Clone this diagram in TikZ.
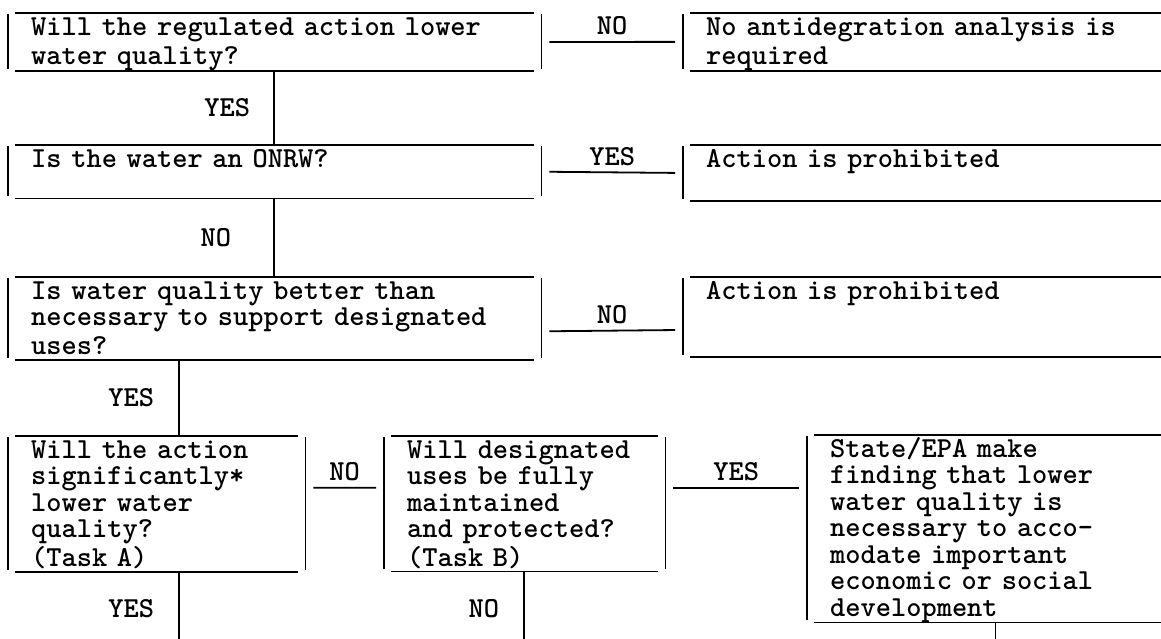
\documentclass[tikz,border=0pt]{standalone}
\usepackage{tikz}
\usetikzlibrary{positioning}
\newcommand{\typed}{\ttfamily\fontseries{b}\fontsize{29}{26.5}\selectfont}
\newcommand{\tstrut}{\rule[-4.7pt]{0pt}{26.5pt}}
\tikzstyle{decision}=[anchor=north west,align=left,inner xsep=23pt,inner ysep=0pt,font=\typed,execute at begin node=\tstrut,execute at end node=\tstrut]
\tikzstyle{rule}=[draw,line width=1.8pt]
\tikzstyle{link}=[draw,line width=1.8pt,shorten <=8pt,shorten >=8pt]
\tikzstyle{lab}=[inner sep=0pt,font=\typed]
% typewriter frame: bars and rules do not meet
\newcommand{\frameit}[1]{%
  \draw[rule] ([yshift=-1pt]#1.north west) -- ([yshift=2pt]#1.south west);
  \draw[rule] ([yshift=-1pt]#1.north east) -- ([yshift=2pt]#1.south east);
  \draw[rule] ([xshift=7pt]#1.north west) -- ([xshift=-7pt]#1.north east);
  \draw[rule] ([xshift=7pt]#1.south west) -- ([xshift=-7pt]#1.south east);
}

\begin{document}
\begin{tikzpicture}[x=1pt,y=-1pt]
        \path[use as bounding box] (0,0) rectangle (1161,638);
        \clip (0,0) rectangle (1161,638);
        % questions (left) and outcomes (right)
        \node[decision,text width=487pt] (q1) at (8,13) {Will the regulated action lower\\water quality?};
        \node[decision,text width=471pt] (r1) at (683,13) {No antidegration analysis is\\required};
        \node[decision,text width=487pt] (q2) at (8,145) {Is the water an ONRW?\\~};
        \node[decision,text width=471pt] (r2) at (683,145) {Action is prohibited\\~};
        \node[decision,text width=487pt] (q3) at (8,277) {Is water quality better than\\necessary to support designated\\uses?};
        \node[decision,text width=471pt] (r3) at (683,277) {Action is prohibited\\~\\~};
        \node[decision,text width=251pt] (q4) at (8,436) {Will the action\\significantly*\\lower water\\quality?\\(Task A)};
        \node[decision,text width=235pt] (q5) at (384,436) {Will designated\\uses be fully\\maintained\\and protected?\\(Task B)};
        \node[decision,text width=347pt] (f6) at (807,435) {State/EPA make\\finding that lower\\water quality is\\necessary to acco-\\modate important\\economic or social\\development};
        \foreach \b in {q1,r1,q2,r2,q3,r3,q4,q5,f6}
          \frameit{\b};
        % side branches
        \draw[link] (q1.east) -- (r1.west) node[lab,midway,above=6pt] {NO};
        \draw[link] (q2.east) -- (r2.west) node[lab,midway,above=6pt] {YES};
        \draw[link] ([yshift=-13pt]q3.east) -- ([yshift=-13pt]r3.west) node[lab,midway,above=6pt] {NO};
        \draw[link] ([yshift=16pt]q4.east) -- ([yshift=16pt]q5.west) node[lab,midway,above=6pt] {NO};
        \draw[link] ([yshift=16pt]q5.east) -- ([yshift=16pt]q5.east -| f6.west) node[lab,midway,above=6pt] {YES};
        % main line down
        \coordinate (outA) at (179,645);
        \coordinate (outB) at (524,645);
        \coordinate (outC) at (995.5,645);
        \draw[rule] ([xshift=266pt]q1.south west) -- ([xshift=266pt]q2.north west) node[lab,midway,left=23pt] {YES};
        \draw[rule] ([xshift=266pt]q2.south west) -- ([xshift=266pt]q3.north west) node[lab,midway,left=42pt] {NO};
        \draw[rule] ([xshift=171pt]q3.south west) -- ([xshift=171pt]q4.north west) node[lab,midway,left=24pt] {YES};
        \draw[rule] ([xshift=171pt]q4.south west) -- (outA) node[lab,midway,left=24pt] {YES};
        \draw[rule] ([xshift=140pt]q5.south west) -- (outB) node[lab,midway,left=24pt] {NO};
        \draw[rule] ([xshift=188.5pt]f6.south west) -- (outC);
\end{tikzpicture}
\end{document}
